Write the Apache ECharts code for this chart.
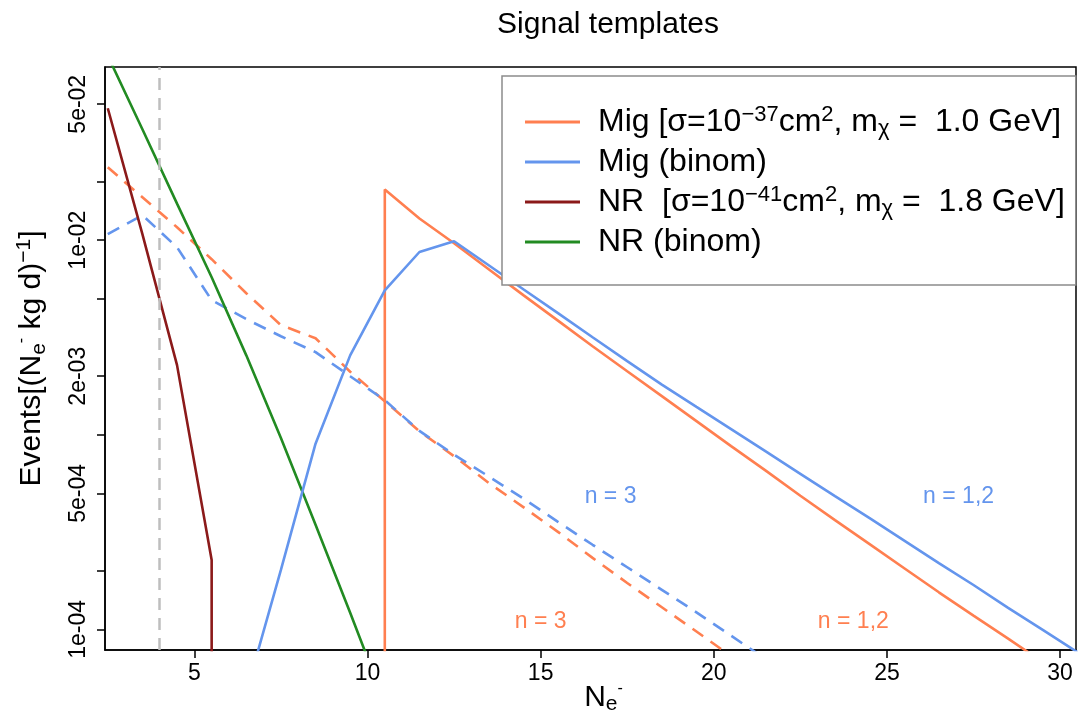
<!DOCTYPE html>
<html><head><meta charset="utf-8">
<script src="https://cdn.jsdelivr.net/npm/echarts@6/dist/echarts.min.js"></script>
<style>html,body{margin:0;padding:0;background:#fff}#c{width:1086px;height:713px}</style>
</head><body><div id="c"></div>
<script>
const FONT = '"Liberation Sans", Arial, Helvetica, sans-serif';

// ---------- data ----------
const migX = [10.5, 10.5, 11.5, 12.5, 13.5, 14.5, 15.5, 16.5, 17.5, 18.5, 19.5, 20.5, 21.5, 22.5, 23.5, 24.5, 25.5, 26.5, 27.5, 28.5, 29.5];
const migY = [1e-7, 0.01822, 0.01293, 0.00965, 0.00710, 0.00522, 0.00386, 0.00285, 0.00212, 0.00158, 0.001175, 8.74e-4, 6.54e-4, 4.86e-4, 3.64e-4, 2.74e-4, 2.06e-4, 1.55e-4, 1.176e-4, 8.96e-5, 6.78e-5];

const migBinX = [6.5, 7.5, 8.5, 9.5, 10.5, 11.5, 12.5, 13.5, 14.5, 15.5, 16.5, 17.5, 18.5, 19.5, 20.5, 21.5, 22.5, 23.5, 24.5, 25.5, 26.5, 27.5, 28.5, 29.5, 30.5];
const migBinY = [4.75e-5, 2.02e-4, 9.0e-4, 2.56e-3, 5.53e-3, 8.7e-3, 9.88e-3, 7.44e-3, 5.60e-3, 4.22e-3, 3.17e-3, 2.39e-3, 1.81e-3, 1.39e-3, 1.07e-3, 8.21e-4, 6.30e-4, 4.84e-4, 3.73e-4, 2.86e-4, 2.19e-4, 1.69e-4, 1.29e-4, 9.94e-5, 7.63e-5];

const mig3X = [2.5, 3.5, 4.5, 5.5, 6.5, 7.5, 8.5, 9.5, 10.5, 11.5, 12.5, 13.5, 14.5, 15.5, 16.5, 17.5, 18.5, 19.5, 20.5];
const mig3Y = [0.02372, 0.01663, 0.01166, 0.00799, 0.00534, 0.00366, 0.003136, 0.002110, 0.001488, 0.001043, 7.76e-4, 5.66e-4, 4.25e-4, 3.17e-4, 2.33e-4, 1.73e-4, 1.299e-4, 9.75e-5, 7.28e-5];

const migBin3X = [2.5, 3.5, 4.5, 5.5, 6.5, 7.5, 8.5, 9.5, 10.5, 11.5, 12.5, 13.5, 14.5, 15.5, 16.5, 17.5, 18.5, 19.5, 20.5, 21.5];
const migBin3Y = [0.01074, 0.01344, 0.00920, 0.00492, 0.00393, 0.00321, 0.00266, 0.00200, 0.001506, 0.001047, 7.89e-4, 6.11e-4, 4.70e-4, 3.57e-4, 2.72e-4, 2.085e-4, 1.596e-4, 1.223e-4, 9.27e-5, 7.03e-5];

const nrX = [2.5, 3.5, 4.5, 5.5, 5.5];
const nrY = [0.0477, 0.01074, 2.28e-3, 2.27e-4, 1e-7];

const nrBinX = [2.5, 3.5, 4.5, 5.5, 6.5, 7.5, 8.5, 9.5, 10.5];
const nrBinY = [0.0888, 0.0372, 0.01542, 6.45e-3, 2.56e-3, 9.62e-4, 3.45e-4, 1.217e-4, 4.19e-5];

const thresholdX = 4;

const xTickVals = [5, 10, 15, 20, 25, 30];
const yTickVals = [0.05, 0.02, 0.01, 0.005, 0.002, 0.001, 5e-4, 2e-4, 1e-4];
const yLabelVals = [0.05, 0.01, 0.002, 5e-4, 1e-4];
const yLabelText = ['5e-02', '1e-02', '2e-03', '5e-04', '1e-04'];

const seriesNames = ['Mig', 'Mig (binom)', 'NR', 'NR (binom)'];
const legendRich = {
  'Mig': '{a|Mig [σ=10}{sup|−37}{a|cm}{sup|2}{a|, m}{sub|χ}{a| =  1.0 GeV]}',
  'Mig (binom)': '{a|Mig (binom)}',
  'NR': '{a|NR  [σ=10}{sup|−41}{a|cm}{sup|2}{a|, m}{sub|χ}{a| =  1.8 GeV]}',
  'NR (binom)': '{a|NR (binom)}'
};

const annoText = ['n = 3', 'n = 1,2', 'n = 3', 'n = 1,2'];
const annoX = [17.02, 27.07, 15.0, 24.03];
const annoY = [4.78e-4, 4.78e-4, 1.1e-4, 1.1e-4];

const C_ORANGE = '#FF7F50', C_BLUE = '#6495ED', C_RED = '#8B1A1A', C_GREEN = '#228B22';
const annoColor = [C_BLUE, C_BLUE, C_ORANGE, C_ORANGE];

// ---------- build ----------
const L = Math.log10;
function pts(xs, ys) { return xs.map((x, i) => [x, L(ys[i])]); }

const xMin = 2.42, xMax = 30.46;
const yMin = L(7.83e-5), yMax = L(0.0777);

function lineSeries(name, xs, ys, color, dashed) {
  return {
    name, type: 'line', data: pts(xs, ys), symbol: 'none', showSymbol: false,
    clip: true, silent: true,
    lineStyle: { color, width: 2.6, type: dashed ? [13, 9] : 'solid' },
    itemStyle: { color }
  };
}

const supRich = {
  a: { fontSize: 32, lineHeight: 36, fontFamily: FONT, color: '#000', verticalAlign: 'middle' },
  sup: { fontSize: 22, lineHeight: 14, fontFamily: FONT, color: '#000', verticalAlign: 'top' },
  sub: { fontSize: 22, lineHeight: 16, fontFamily: FONT, color: '#000', verticalAlign: 'bottom' }
};

const option = {
  animation: false,
  backgroundColor: '#fff',
  title: {
    text: 'Signal templates', left: 603, textAlign: 'center', top: 5,
    textStyle: { fontSize: 30, fontWeight: 'normal', fontFamily: FONT, color: '#000' }
  },
  grid: { left: 105, right: 10, top: 67, bottom: 63, show: true, borderColor: '#000', borderWidth: 1.5, containLabel: false, outerBoundsMode: 'none' },
  legend: {
    orient: 'vertical', left: 502, top: 76, data: seriesNames, selectedMode: false,
    icon: 'rect', itemWidth: 55, itemHeight: 3, itemGap: 6,
    padding: [28, 11, 27, 23],
    borderColor: '#8c8c8c', borderWidth: 1.5, backgroundColor: '#fff',
    formatter: n => legendRich[n],
    textStyle: { fontSize: 32, fontFamily: FONT, color: '#000', padding: [0, 0, 0, 13], rich: supRich }
  },
  xAxis: {
    type: 'value', min: xMin, max: xMax,
    name: '{a|N}{sub|e}{ssup|-}', nameLocation: 'middle', nameGap: 31, nameMoveOverlap: false,
    nameTextStyle: {
      fontSize: 30, fontFamily: FONT, color: '#000', padding: [0, 0, 0, 26],
      rich: {
        a: { fontSize: 30, lineHeight: 34, fontFamily: FONT, color: '#000', verticalAlign: 'middle' },
        sub: { fontSize: 21, lineHeight: 20, fontFamily: FONT, color: '#000', verticalAlign: 'bottom' },
        ssup: { fontSize: 16, lineHeight: 20, fontFamily: FONT, color: '#000', verticalAlign: 'top' }
      }
    },
    axisLine: { show: true, onZero: false, lineStyle: { color: '#000', width: 1.5 } },
    axisTick: { show: true, inside: false, length: 8, customValues: xTickVals, lineStyle: { color: '#000', width: 1.5 } },
    axisLabel: { customValues: xTickVals, fontSize: 23, fontFamily: FONT, color: '#000', margin: 12 },
    splitLine: { show: false }
  },
  yAxis: {
    type: 'value', min: yMin, max: yMax,
    name: '{a|Events[(N}{sub|e}{ssup|-}{a| kg d)}{sup|−1}{a|]}', nameLocation: 'middle', nameGap: 55, nameRotate: 90,
    nameTextStyle: {
      fontSize: 30, fontFamily: FONT, color: '#000',
      rich: {
        a: { fontSize: 30, lineHeight: 36, fontFamily: FONT, color: '#000', verticalAlign: 'middle' },
        sub: { fontSize: 21, lineHeight: 22, fontFamily: FONT, color: '#000', verticalAlign: 'bottom' },
        ssup: { fontSize: 16, lineHeight: 20, fontFamily: FONT, color: '#000', verticalAlign: 'top' },
        sup: { fontSize: 21, lineHeight: 14, fontFamily: FONT, color: '#000', verticalAlign: 'top' }
      }
    },
    axisLine: { show: true, onZero: false, lineStyle: { color: '#000', width: 1.5 } },
    axisTick: { show: true, inside: false, length: 8, customValues: yTickVals.map(L), lineStyle: { color: '#000', width: 1.5 } },
    axisLabel: {
      customValues: yLabelVals.map(L), rotate: 90, fontSize: 23, fontFamily: FONT, color: '#000', margin: 15,
      formatter: v => {
        let best = 0, d = Infinity;
        yLabelVals.forEach((y, i) => { const dd = Math.abs(L(y) - v); if (dd < d) { d = dd; best = i; } });
        return yLabelText[best];
      }
    },
    splitLine: { show: false }
  },
  series: [
    {
      name: 'threshold', type: 'line', data: [], silent: true,
      markLine: {
        symbol: 'none', silent: true, label: { show: false },
        lineStyle: { color: '#BEBEBE', type: [12, 8], width: 2.5 },
        data: [{ xAxis: thresholdX }]
      }
    },
    lineSeries('Mig n=3', mig3X, mig3Y, C_ORANGE, true),
    lineSeries('Mig (binom) n=3', migBin3X, migBin3Y, C_BLUE, true),
    lineSeries('NR', nrX, nrY, C_RED, false),
    lineSeries('NR (binom)', nrBinX, nrBinY, C_GREEN, false),
    lineSeries('Mig', migX, migY, C_ORANGE, false),
    lineSeries('Mig (binom)', migBinX, migBinY, C_BLUE, false)
  ]
};

const chart = echarts.init(document.getElementById('c'), null, { renderer: 'canvas' });
chart.setOption(option);

const annoGraphics = annoText.map((t, i) => {
  const p = chart.convertToPixel({ gridIndex: 0 }, [annoX[i], L(annoY[i])]);
  return {
    type: 'text', x: p[0], y: p[1], silent: true, z: 10,
    style: { text: t, fill: annoColor[i], fontSize: 23, fontFamily: FONT, align: 'center', verticalAlign: 'middle' }
  };
});
chart.setOption({ graphic: annoGraphics });
</script>
</body></html>
